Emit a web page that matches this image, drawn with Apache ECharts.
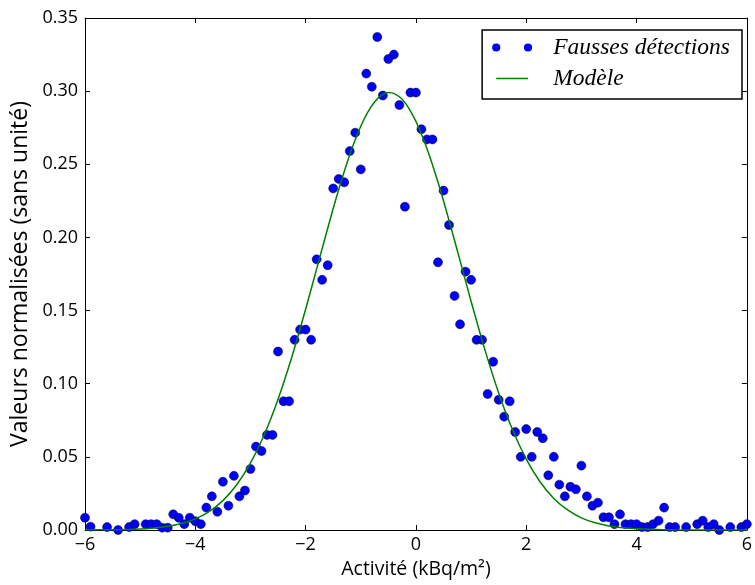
<!DOCTYPE html>
<html>
<head>
<meta charset="utf-8">
<script src="https://cdn.jsdelivr.net/npm/echarts@6/dist/echarts.min.js"></script>
<style>
html,body{margin:0;padding:0;background:#fff;}
#chart{width:755px;height:585px;}
</style>
</head>
<body>
<div id="chart"></div>
<script>
// Fausses détections (scatter)
const pointX = [-6.0,-5.9,-5.6,-5.4,-5.2,-5.1,-4.9,-4.8,-4.7,-4.6,-4.5,-4.4,-4.3,-4.2,-4.1,-4.0,-3.9,-3.8,-3.7,-3.6,-3.5,-3.4,-3.3,-3.2,-3.1,-3.0,-2.9,-2.8,-2.7,-2.6,-2.5,-2.4,-2.3,-2.2,-2.1,-2.0,-1.9,-1.8,-1.7,-1.6,-1.5,-1.4,-1.3,-1.2,-1.1,-1.0,-0.9,-0.8,-0.7,-0.6,-0.5,-0.4,-0.3,-0.2,-0.1,0.0,0.1,0.2,0.3,0.4,0.5,0.6,0.7,0.8,0.9,1.0,1.1,1.2,1.3,1.4,1.5,1.6,1.7,1.8,1.9,2.0,2.1,2.2,2.3,2.4,2.5,2.6,2.7,2.8,2.9,3.0,3.1,3.2,3.3,3.4,3.5,3.6,3.7,3.8,3.9,4.0,4.1,4.2,4.3,4.4,4.5,4.6,4.7,4.9,5.1,5.2,5.3,5.4,5.5,5.7,5.9,6.0];
const pointY = [0.0084,0.0023,0.002,0.0,0.002,0.004,0.004,0.004,0.004,0.0016,0.0016,0.0107,0.0084,0.004,0.0084,0.006,0.004,0.0153,0.023,0.0125,0.033,0.0166,0.037,0.023,0.027,0.0417,0.057,0.054,0.065,0.065,0.122,0.088,0.088,0.130,0.137,0.137,0.130,0.185,0.171,0.181,0.2335,0.240,0.2377,0.259,0.2716,0.2465,0.312,0.303,0.337,0.297,0.322,0.325,0.2905,0.221,0.299,0.299,0.274,0.267,0.267,0.183,0.232,0.2085,0.160,0.1406,0.1766,0.171,0.130,0.130,0.093,0.115,0.089,0.0775,0.088,0.067,0.050,0.069,0.050,0.067,0.0627,0.0374,0.050,0.031,0.023,0.0296,0.0278,0.044,0.023,0.0166,0.0187,0.0087,0.0087,0.004,0.0107,0.004,0.004,0.004,0.002,0.002,0.004,0.0064,0.0153,0.002,0.002,0.002,0.004,0.0064,0.002,0.004,0.0,0.002,0.002,0.004];

// Modèle (curve, values)
const modelX = [-6,-5.5,-5,-4.75,-4.5,-4.25,-4,-3.75,-3.5,-3.25,-3,-2.75,-2.5,-2.25,-2,-1.75,-1.5,-1.375,-1.25,-1.125,-1,-0.875,-0.75,-0.625,-0.5,-0.375,-0.25,-0.125,0,0.125,0.25,0.375,0.5,0.75,1,1.25,1.5,1.75,2,2.25,2.5,2.75,3,3.25,3.5,3.75,4,4.5,5,5.5,6];
const modelY = [0.0000,0.0002,0.0007,0.0014,0.0025,0.0045,0.0076,0.0126,0.0201,0.0309,0.0457,0.0651,0.0894,0.1183,0.1509,0.1855,0.2198,0.2359,0.2509,0.2644,0.2760,0.2855,0.2926,0.2971,0.2990,0.2980,0.2944,0.2881,0.2793,0.2683,0.2554,0.2408,0.2251,0.1911,0.1564,0.1233,0.0937,0.0687,0.0485,0.0330,0.0216,0.0137,0.0083,0.0049,0.0028,0.0015,0.0008,0.0002,0.0000,0.0000,0.0000];

const xTicks = {min: -6, max: 6, interval: 2};
const yTicks = {min: 0, max: 0.35, interval: 0.05};

const seriesNames = ['Fausses détections', 'Modèle'];

const chart = echarts.init(document.getElementById('chart'), null, {renderer: 'canvas'});

const sansFont = 'Open Sans';
const axisCommon = {
  axisLine: {show: true, onZero: false, lineStyle: {color: '#000', width: 1}},
  axisTick: {show: true, inside: true, length: 5, lineStyle: {color: '#000', width: 1}},
  splitLine: {show: false}
};
const minusFmt = v => String(v).replace('-', '\u2212');

const dotsIcon = 'path://M0,4a4,4 0 1,0 8,0a4,4 0 1,0 -8,0zM31,4a4,4 0 1,0 8,0a4,4 0 1,0 -8,0z';
const lineIcon = 'path://M0,0M39,8M4,3.3h31v1.4h-31z';

chart.setOption({
  animation: false,
  backgroundColor: '#fff',
  grid: {left: 85, right: 3, top: 18, bottom: 55, containLabel: false},
  legend: {
    orient: 'vertical', right: 13, top: 30,
    backgroundColor: '#fff',
    borderColor: '#000', borderWidth: 1.5, borderRadius: 0,
    padding: [6, 12, 9, 10],
    itemWidth: 40, itemHeight: 10, itemGap: 8,
    textStyle: {fontFamily: 'Liberation Serif', fontStyle: 'italic', fontSize: 23.5, color: '#000', lineHeight: 20, padding: [0, 0, 0, 16]},
    data: [
      {name: seriesNames[0], icon: dotsIcon, itemStyle: {borderWidth: 0}},
      {name: seriesNames[1], icon: lineIcon}
    ]
  },
  xAxis: [
    Object.assign({
      type: 'value', position: 'bottom', min: xTicks.min, max: xTicks.max, interval: xTicks.interval,
      name: 'Activité (kBq/m²)', nameLocation: 'middle', nameGap: 29,
      nameTextStyle: {fontFamily: sansFont, fontSize: 19.5, color: '#000'},
      axisLabel: {show: true, margin: 6, fontFamily: sansFont, fontSize: 18, color: '#000', formatter: minusFmt}
    }, axisCommon),
    Object.assign({
      type: 'value', position: 'top', min: xTicks.min, max: xTicks.max, interval: xTicks.interval,
      axisLabel: {show: false}
    }, axisCommon)
  ],
  yAxis: [
    Object.assign({
      type: 'value', position: 'left', min: yTicks.min, max: yTicks.max, interval: yTicks.interval,
      name: 'Valeurs normalisées (sans unité)', nameLocation: 'middle', nameGap: 46,
      nameTextStyle: {fontFamily: sansFont, fontSize: 23, color: '#000'},
      axisLabel: {show: true, margin: 7, fontFamily: sansFont, fontSize: 18, color: '#000', formatter: v => v.toFixed(2)}
    }, axisCommon),
    Object.assign({
      type: 'value', position: 'right', min: yTicks.min, max: yTicks.max, interval: yTicks.interval,
      axisLabel: {show: false}
    }, axisCommon)
  ],
  series: [
    {
      name: seriesNames[0], type: 'scatter', xAxisIndex: 0, yAxisIndex: 0,
      symbol: 'circle', symbolSize: 9, clip: true,
      itemStyle: {color: '#0000ff', borderColor: '#000', borderWidth: 0.5, opacity: 1},
      data: pointX.map((x, i) => [x, pointY[i]]), z: 2
    },
    {
      name: seriesNames[1], type: 'line', xAxisIndex: 0, yAxisIndex: 0,
      showSymbol: false, symbol: 'none', smooth: 0.3, clip: true,
      lineStyle: {color: '#008000', width: 1.5}, itemStyle: {color: '#008000'},
      data: modelX.map((x, i) => [x, modelY[i]]), z: 3
    }
  ]
});
</script>
</body>
</html>
